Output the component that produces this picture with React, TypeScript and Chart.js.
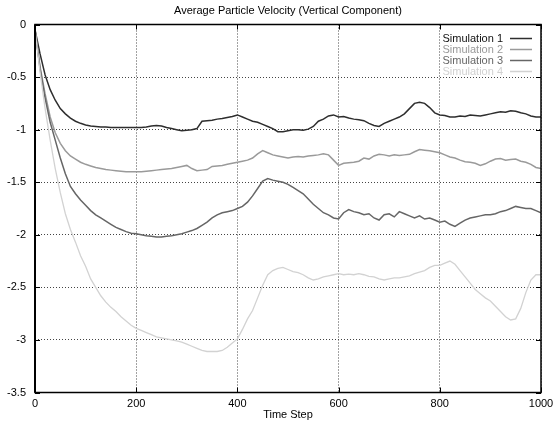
import React, { useEffect, useRef } from "react";
import { Chart, registerables } from "chart.js";

Chart.register(...registerables);

const TITLE = "Average Particle Velocity (Vertical Component)";
const X_TITLE = "Time Step";
const seriesNames = ["Simulation 1", "Simulation 2", "Simulation 3", "Simulation 4"];
const seriesColors = ["#2e2e2e", "#9a9a9a", "#666666", "#d2d2d2"];
const xTickValues = [0, 200, 400, 600, 800, 1000];
const yTickValues = [0, -0.5, -1, -1.5, -2, -2.5, -3, -3.5];

const timeSteps = [
  0, 10, 20, 30, 40, 50, 60, 70, 80, 90,
  100, 110, 120, 130, 140, 150, 160, 170, 180, 190,
  200, 210, 220, 230, 240, 250, 260, 270, 280, 290,
  300, 310, 320, 330, 340, 350, 360, 370, 380, 390,
  400, 410, 420, 430, 440, 450, 460, 470, 480, 490,
  500, 510, 520, 530, 540, 550, 560, 570, 580, 590,
  600, 610, 620, 630, 640, 650, 660, 670, 680, 690,
  700, 710, 720, 730, 740, 750, 760, 770, 780, 790,
  800, 810, 820, 830, 840, 850, 860, 870, 880, 890,
  900, 910, 920, 930, 940, 950, 960, 970, 980, 990,
  1000,
];

const sim1 = [
  -0.05, -0.28, -0.48, -0.62, -0.72, -0.8, -0.85, -0.89, -0.92, -0.94,
  -0.955, -0.965, -0.97, -0.975, -0.975, -0.98, -0.98, -0.98, -0.98, -0.98,
  -0.98, -0.98, -0.975, -0.965, -0.96, -0.965, -0.98, -0.99, -1.0, -1.01,
  -1.005, -1.0, -0.99, -0.92, -0.915, -0.91, -0.9, -0.895, -0.885, -0.875,
  -0.86, -0.88, -0.9, -0.92, -0.93, -0.95, -0.97, -0.99, -1.02, -1.02,
  -1.01, -1.0, -1.0, -1.005, -0.995, -0.97, -0.92, -0.9, -0.87, -0.86,
  -0.88, -0.875, -0.89, -0.9, -0.905, -0.915, -0.94, -0.96, -0.97, -0.94,
  -0.92, -0.9, -0.88, -0.85, -0.8, -0.75, -0.74, -0.75, -0.79, -0.84,
  -0.86, -0.865, -0.88, -0.88, -0.87, -0.875, -0.86, -0.865, -0.87, -0.86,
  -0.85, -0.84, -0.83, -0.835, -0.82, -0.825, -0.84, -0.85, -0.87, -0.88,
  -0.88,
];

const sim2 = [
  -0.05, -0.4, -0.66, -0.88, -1.03, -1.13, -1.2, -1.25, -1.28, -1.31,
  -1.33, -1.345, -1.36, -1.37, -1.38, -1.385, -1.39, -1.395, -1.4, -1.4,
  -1.4, -1.4, -1.395, -1.39, -1.385, -1.38, -1.375, -1.37, -1.36, -1.35,
  -1.34, -1.37, -1.39, -1.385, -1.38, -1.35, -1.345, -1.34, -1.33, -1.32,
  -1.31, -1.3, -1.29, -1.27, -1.23, -1.2, -1.22, -1.24, -1.25, -1.26,
  -1.27, -1.26, -1.255, -1.26, -1.25, -1.245, -1.24, -1.23, -1.24, -1.29,
  -1.34, -1.32, -1.315, -1.31, -1.3, -1.27, -1.28, -1.25, -1.235, -1.24,
  -1.25, -1.24, -1.245, -1.24, -1.235, -1.21, -1.19, -1.195, -1.2, -1.21,
  -1.22, -1.24, -1.26, -1.27, -1.29, -1.305, -1.31, -1.32, -1.34, -1.325,
  -1.3, -1.28, -1.275, -1.29, -1.285, -1.28, -1.3, -1.31, -1.33, -1.36,
  -1.37,
];

const sim3 = [
  -0.05, -0.42, -0.7, -0.93, -1.1, -1.27, -1.42, -1.54, -1.61, -1.67,
  -1.72, -1.77, -1.81, -1.84, -1.87, -1.9, -1.93, -1.95, -1.97, -1.985,
  -1.99, -2.0, -2.01, -2.015, -2.02, -2.02, -2.015, -2.01, -2.0, -1.99,
  -1.975, -1.96, -1.94, -1.91, -1.88, -1.84, -1.81, -1.79, -1.78, -1.77,
  -1.75, -1.73, -1.69, -1.63, -1.56, -1.49, -1.465, -1.48, -1.49, -1.5,
  -1.52, -1.55, -1.58, -1.61, -1.66, -1.71, -1.75, -1.79, -1.81, -1.84,
  -1.85, -1.79, -1.76, -1.78, -1.79, -1.81, -1.8, -1.84, -1.86, -1.81,
  -1.8, -1.83, -1.78, -1.8, -1.82, -1.84, -1.82, -1.85, -1.84, -1.86,
  -1.88, -1.87, -1.9, -1.92, -1.89, -1.86, -1.84, -1.83, -1.82, -1.81,
  -1.81, -1.8, -1.78, -1.77, -1.75, -1.73, -1.74, -1.75, -1.75, -1.77,
  -1.79,
];

const sim4 = [
  -0.05, -0.45, -0.8, -1.1, -1.37, -1.6, -1.8, -1.95, -2.07, -2.2,
  -2.3, -2.42, -2.5, -2.58, -2.64, -2.69, -2.73, -2.78, -2.82, -2.86,
  -2.89, -2.91, -2.93, -2.95, -2.97, -2.98, -2.99, -3.0, -3.01, -3.02,
  -3.04, -3.06, -3.08, -3.1, -3.11, -3.11, -3.11, -3.1, -3.07, -3.03,
  -2.99, -2.9, -2.8, -2.72, -2.6, -2.48, -2.38, -2.34, -2.32, -2.31,
  -2.33, -2.35, -2.36, -2.38, -2.41, -2.43, -2.42, -2.4, -2.39, -2.38,
  -2.37, -2.38, -2.375, -2.38, -2.37, -2.38, -2.395, -2.4, -2.42, -2.43,
  -2.42, -2.41, -2.41, -2.4, -2.39, -2.37, -2.355, -2.34, -2.31, -2.29,
  -2.29, -2.27, -2.25, -2.28, -2.34, -2.4, -2.46, -2.52, -2.56, -2.6,
  -2.63, -2.68, -2.73, -2.78, -2.81, -2.8, -2.7, -2.55, -2.43, -2.38,
  -2.38,
];

const allSeries = [sim1, sim2, sim3, sim4];
const FONT = "'Liberation Sans', Arial, Helvetica, sans-serif";

const framePlugin = {
  id: "gnuplotFrame",
  afterDatasetsDraw(chart: any) {
    const { ctx, chartArea } = chart;
    const { left, top, right, bottom } = chartArea;
    const xs = chart.scales.x;
    const ys = chart.scales.y;
    ctx.save();
    // inward tick marks
    ctx.strokeStyle = "#000";
    ctx.lineWidth = 1;
    ctx.beginPath();
    xTickValues.forEach((v) => {
      const px = Math.round(xs.getPixelForValue(v)) + 0.5;
      ctx.moveTo(px, bottom);
      ctx.lineTo(px, bottom - 5);
      ctx.moveTo(px, top);
      ctx.lineTo(px, top + 5);
    });
    yTickValues.forEach((v) => {
      const py = Math.round(ys.getPixelForValue(v)) + 0.5;
      ctx.moveTo(left, py);
      ctx.lineTo(left + 5, py);
      ctx.moveTo(right, py);
      ctx.lineTo(right - 5, py);
    });
    ctx.stroke();
    // frame
    ctx.lineWidth = 1.5;
    ctx.strokeRect(left, top, right - left, bottom - top);
    ctx.lineWidth = 2;
    ctx.beginPath();
    ctx.moveTo(left, top);
    ctx.lineTo(left, bottom);
    ctx.stroke();
    // legend
    ctx.font = `11px ${FONT}`;
    ctx.textAlign = "right";
    ctx.textBaseline = "middle";
    const textRight = right - 38;
    seriesNames.forEach((name, i) => {
      const cy = top + 14 + i * 11;
      ctx.fillStyle = i === 0 ? "#111" : seriesColors[i];
      ctx.fillText(name, textRight, cy);
      ctx.strokeStyle = seriesColors[i];
      ctx.lineWidth = 1.5;
      ctx.beginPath();
      ctx.moveTo(textRight + 7, cy);
      ctx.lineTo(textRight + 29, cy);
      ctx.stroke();
    });
    ctx.restore();
  },
};

export default function App() {
  const canvasRef = useRef<HTMLCanvasElement | null>(null);

  useEffect(() => {
    if (!canvasRef.current) return;
    const chart = new Chart(canvasRef.current, {
      type: "line",
      data: {
        datasets: allSeries.map((vals, i) => ({
          label: seriesNames[i],
          data: vals.map((v, j) => ({ x: timeSteps[j], y: v })),
          borderColor: seriesColors[i],
          borderWidth: i === 3 ? 1.3 : 1.5,
          pointRadius: 0,
          fill: false,
          tension: 0,
          order: 4 - i,
        })),
      },
      options: {
        animation: false,
        responsive: false,
        devicePixelRatio: 1,
        layout: { padding: { left: 0, right: 13, top: 0, bottom: 0 } },
        plugins: {
          legend: { display: false },
          tooltip: { enabled: false },
          title: {
            display: true,
            text: TITLE,
            fullSize: false,
            color: "#000",
            font: { family: FONT, size: 11, weight: "normal" },
            padding: { top: 4, bottom: 7.3 },
          },
        },
        scales: {
          x: {
            type: "linear",
            min: 0,
            max: 1000,
            afterFit(scale: any) {
              scale.height = 32.5;
              scale.paddingLeft = 0;
              scale.paddingRight = 0;
            },
            afterBuildTicks(scale: any) {
              scale.ticks = xTickValues.map((v) => ({ value: v }));
            },
            ticks: {
              color: "#000",
              font: { family: FONT, size: 11 },
              padding: 5,
              maxRotation: 0,
              autoSkip: false,
              callback: (v: any) => String(v),
            },
            grid: {
              color: "#444",
              lineWidth: 1,
              drawTicks: false,
            },
            border: { display: false, dash: [1, 2] },
            title: {
              display: true,
              text: X_TITLE,
              color: "#000",
              font: { family: FONT, size: 11 },
              padding: { top: 0, bottom: 3 },
            },
          },
          y: {
            type: "linear",
            min: -3.5,
            max: 0,
            afterFit(scale: any) {
              scale.width = 35;
              scale.paddingTop = 0;
              scale.paddingBottom = 0;
            },
            afterBuildTicks(scale: any) {
              scale.ticks = yTickValues.slice().reverse().map((v) => ({ value: v }));
            },
            ticks: {
              color: "#000",
              font: { family: FONT, size: 11 },
              padding: 9,
              autoSkip: false,
              callback: (v: any) => String(v),
            },
            grid: {
              color: "#444",
              lineWidth: 1,
              drawTicks: false,
            },
            border: { display: false, dash: [1, 2] },
          },
        },
      },
      plugins: [framePlugin],
    });
    return () => chart.destroy();
  }, []);

  return (
    <div style={{ position: "absolute", left: 0, top: 0, width: 554, height: 425, background: "#fff" }}>
      <canvas ref={canvasRef} width={554} height={425} style={{ display: "block" }} />
    </div>
  );
}
